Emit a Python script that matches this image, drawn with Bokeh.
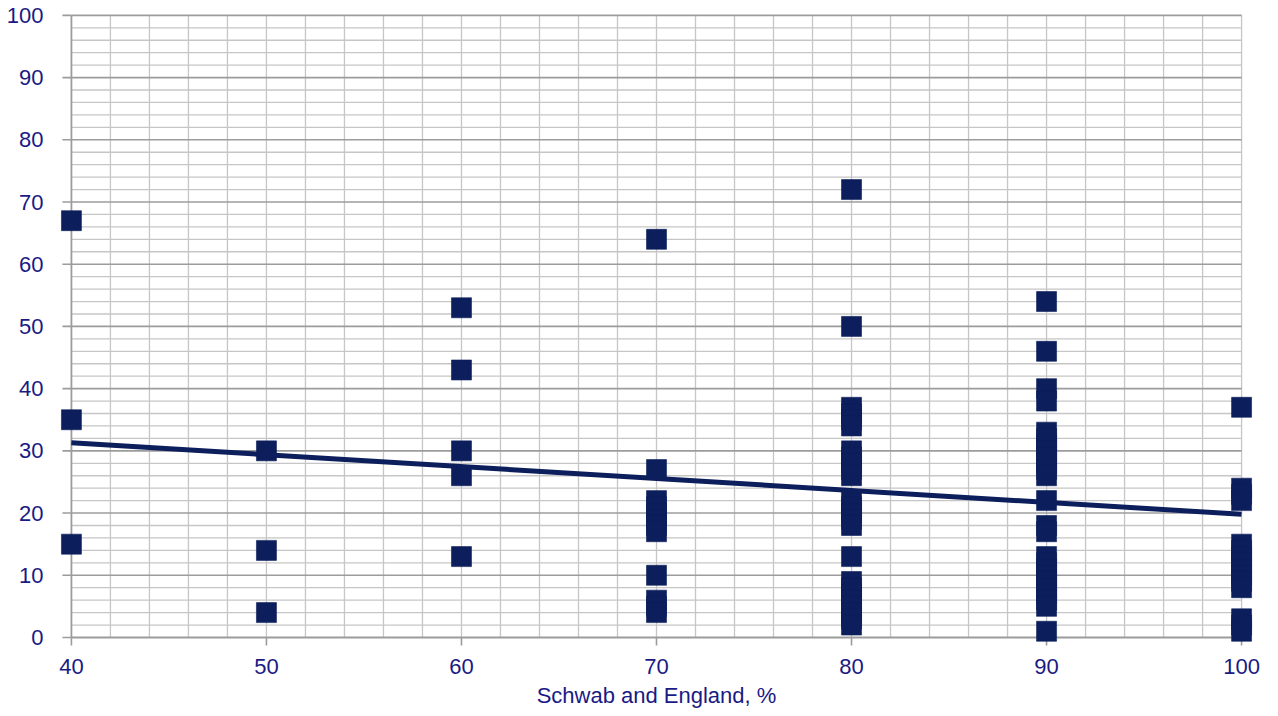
import math
import numpy as np
from bokeh.plotting import figure
from bokeh.models import Range1d, LinearAxis, FixedTicker
from bokeh.embed import file_html
from bokeh.resources import INLINE

# Paired scores: Schwab and England (%) on x, second measure on y, grouped by x level
x_levels = [40, 50, 60, 70, 80, 90, 100]
y_at_40 = [67, 35, 15]
y_at_50 = [30, 14, 4]
y_at_60 = [53, 43, 30, 26, 13]
y_at_70 = [64, 27, 22, 21, 20, 19, 18, 17, 10, 6, 5, 4]
y_at_80 = [72, 50, 37, 36, 35, 34, 30, 29, 28, 27, 26, 22, 21, 20, 19, 18,
           13, 9, 8, 7, 6, 5, 4, 3, 2]
y_at_90 = [54, 46, 40, 38, 33, 32, 31, 30, 29, 28, 27, 26, 22, 18, 17,
           13, 12, 11, 10, 9, 8, 7, 6, 5, 1]
y_at_100 = [37, 24, 23, 22, 15, 14, 13, 12, 11, 10, 9, 8, 3, 2, 1]

# Linear trend line end points
trend_x = [40, 100]
trend_y = [31.3, 19.8]

x_ticks = [40, 50, 60, 70, 80, 90, 100]
y_ticks = [0, 10, 20, 30, 40, 50, 60, 70, 80, 90, 100]

NAVY = "#0c1e5b"
TEXT = "#1a1a84"
GRID_MINOR = "#c6c6c6"
GRID_MAJOR = "#9c9c9c"
FONT = "Liberation Sans"

groups = [y_at_40, y_at_50, y_at_60, y_at_70, y_at_80, y_at_90, y_at_100]
xs = [x for x, g in zip(x_levels, groups) for _ in g]
ys = [y for g in groups for y in g]

# The frame is padded slightly past the 40-100 / 0-100 box so that the
# edge markers and tick stubs are drawn whole.
p = figure(width=1278, height=716,
           x_range=Range1d(39.44, 100.56), y_range=Range1d(-1.45, 100.3),
           x_axis_type=None, y_axis_type=None,
           output_backend="svg", toolbar_location=None,
           min_border_left=60, min_border_right=26,
           min_border_top=13, min_border_bottom=70)
p.outline_line_color = None
p.background_fill_color = "white"
p.border_fill_color = "white"
p.xgrid.visible = False
p.ygrid.visible = False

# Grid limited to the 40-100 x 0-100 box
x_lo, x_hi = x_ticks[0], x_ticks[-1]
y_lo, y_hi = y_ticks[0], y_ticks[-1]
vert = np.arange(x_lo + 2, x_hi + 1, 2)
minor_h = [v for v in range(y_lo + 2, y_hi, 2) if v % 10]
major_h = y_ticks[1:]
p.segment(x0=vert, y0=[y_lo] * len(vert), x1=vert, y1=[y_hi] * len(vert),
          line_color=GRID_MINOR, line_width=1.3)
p.segment(x0=[x_lo] * len(minor_h), y0=minor_h, x1=[x_hi] * len(minor_h), y1=minor_h,
          line_color=GRID_MINOR, line_width=1.3)
p.segment(x0=[x_lo] * len(major_h), y0=major_h, x1=[x_hi] * len(major_h), y1=major_h,
          line_color=GRID_MAJOR, line_width=1.6)

# Axis lines and outward tick stubs
p.segment(x0=[x_lo, x_lo], y0=[y_lo, y_lo], x1=[x_lo, x_hi], y1=[y_hi, y_lo],
          line_color=GRID_MAJOR, line_width=1.8)
p.ray(x=[x_lo] * len(y_ticks), y=y_ticks, length=9, length_units="screen",
      angle=math.pi, line_color=GRID_MAJOR, line_width=1.6)
p.ray(x=x_ticks, y=[y_lo] * len(x_ticks), length=8, length_units="screen",
      angle=-math.pi / 2, line_color=GRID_MAJOR, line_width=1.6)

p.scatter(xs, ys, marker="square", size=20, fill_color=NAVY,
          line_color=NAVY, line_width=0.6)
p.line(trend_x, trend_y, line_color=NAVY, line_width=5)


def style(axis, standoff):
    axis.axis_line_color = None
    axis.major_tick_line_color = None
    axis.major_tick_out = 0
    axis.major_tick_in = 0
    axis.minor_tick_out = 0
    axis.minor_tick_in = 0
    axis.major_label_text_font = FONT
    axis.major_label_text_font_size = "22px"
    axis.major_label_text_color = TEXT
    axis.major_label_standoff = standoff


xaxis = LinearAxis(ticker=FixedTicker(ticks=x_ticks),
                   axis_label="Schwab and England, %")
style(xaxis, 12)
xaxis.axis_label_text_font = FONT
xaxis.axis_label_text_font_size = "22px"
xaxis.axis_label_text_font_style = "normal"
xaxis.axis_label_text_color = TEXT
xaxis.axis_label_standoff = 6
p.add_layout(xaxis, "below")

yaxis = LinearAxis(ticker=FixedTicker(ticks=y_ticks))
style(yaxis, 17)
p.add_layout(yaxis, "left")

open("out.html", "w").write(file_html(p, INLINE))
